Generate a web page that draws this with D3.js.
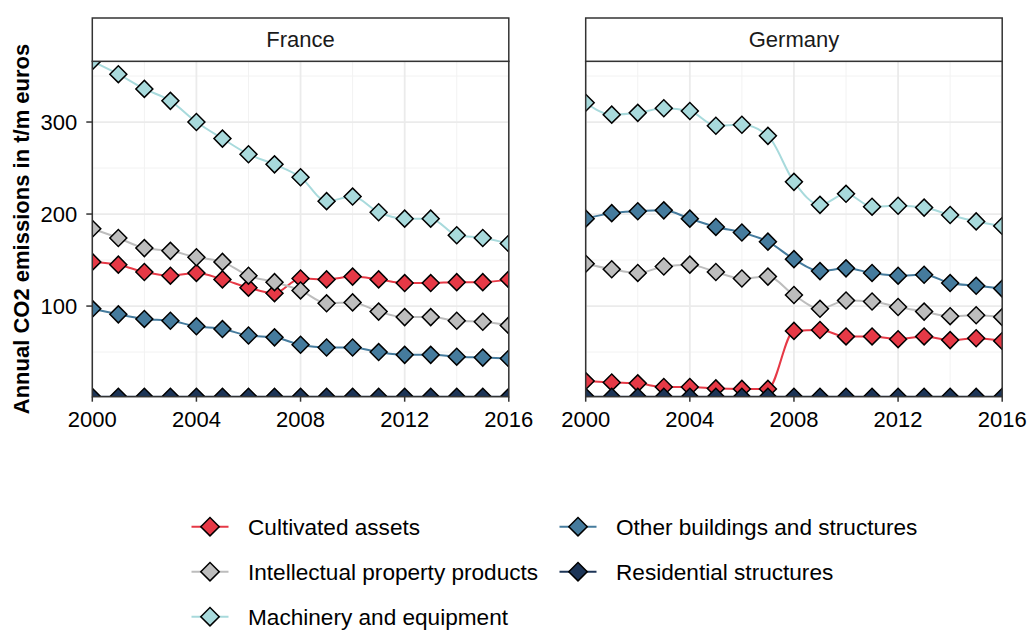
<!DOCTYPE html>
<html>
<head>
<meta charset="utf-8">
<script src="https://cdn.jsdelivr.net/npm/d3@7"></script>
<style>
  body { margin: 0; background: #fff; }
  svg { font-family: "Liberation Sans", Arial, sans-serif; }
</style>
</head>
<body>
<svg id="chart" width="1031" height="630"></svg>
<script>
const years = d3.range(2000, 2017)
const countries = ['France', 'Germany']
const seriesNames = ['Cultivated assets', 'Intellectual property products', 'Machinery and equipment',
	'Other buildings and structures', 'Residential structures']
const cols = ['#E63946', '#BDBDBD', '#A8DADC', '#457B9D', '#1D3557']

// France
const frCultivated = [148,145,137,133,136,129,120,114,130,129,132,129,125,125,126,126,129]
const frIntellectual = [184,174,163,160,153,148,133,126,117,103,104,94,88,88,84,83,79]
const frMachinery = [366,352,336,323,300,282,265,254,240,214,219,202,195,195,177,174,168]
const frOther = [97,91,86,84,78,75,68,66,58,55,55,50,47,47,45,44,43]
const frResidential = [1.5,1.5,1.5,1.5,1.5,1.5,1.5,1.5,1.5,1.5,1.5,1.5,1.5,1.5,1.5,1.5,1.5]

// Germany
const deCultivated = [18.5,17,16,12,12,10.5,10,10,73,74,67,67,64,67,63,65,62]
const deIntellectual = [146,140,136,143,145,137,130,132,112,97,106,105,99,94,89,90,88]
const deMachinery = [321,308,310,315,312,296,297,285,235,210,222,208,209,207,199,192,187]
const deOther = [195,201,203,204,195,186,180,170,151,138,141,136,133,134,125,122,119]
const deResidential = [1.5,1.5,1.5,1.5,1.5,1.5,1.5,1.5,1.5,1.5,1.5,1.5,1.5,1.5,1.5,1.5,1.5]

const yTicks = [100, 200, 300]
const yMinor = [50, 150, 250, 350]
const xTicks = [2000, 2004, 2008, 2012, 2016]
const xMinor = [2002, 2006, 2010, 2014]

const data = {
	France: [frCultivated, frIntellectual, frMachinery, frOther, frResidential],
	Germany: [deCultivated, deIntellectual, deMachinery, deOther, deResidential]
}

const svg = d3.select('#chart')

const fs = 22
const panelTop = 61.3
const panelBottom = 396.7
const stripTop = 18
const panelX = { France: 92.3, Germany: 585.7 }
const panelW = 416.5

const allVals = Object.values(data).flat(2)
const y = d3.scaleLinear()
	.domain([d3.min(allVals), d3.max(allVals)])
	.range([panelBottom, panelTop])

const diamond = d3.symbol().type(d3.symbolSquare).size(144)
const keyDiamond = d3.symbol().type(d3.symbolSquare).size(170)

countries.forEach((c, ci) => {
	const x = d3.scaleLinear().domain([2000, 2016]).range([panelX[c], panelX[c] + panelW])
	const g = svg.append('g')

	g.append('clipPath').attr('id', `clip${ci}`)
		.append('rect')
		.attr('x', panelX[c]).attr('y', panelTop)
		.attr('width', panelW).attr('height', panelBottom - panelTop)

	// grid
	g.selectAll('.ymin').data(yMinor).enter().append('line')
		.attr('x1', panelX[c]).attr('x2', panelX[c] + panelW)
		.attr('y1', d => y(d)).attr('y2', d => y(d))
		.attr('stroke', '#f2f2f2').attr('stroke-width', 1)
	g.selectAll('.xmin').data(xMinor).enter().append('line')
		.attr('y1', panelTop).attr('y2', panelBottom)
		.attr('x1', d => x(d)).attr('x2', d => x(d))
		.attr('stroke', '#f2f2f2').attr('stroke-width', 1)
	g.selectAll('.ymaj').data(yTicks).enter().append('line')
		.attr('x1', panelX[c]).attr('x2', panelX[c] + panelW)
		.attr('y1', d => y(d)).attr('y2', d => y(d))
		.attr('stroke', '#ebebeb').attr('stroke-width', 1.8)
	g.selectAll('.xmaj').data(xTicks).enter().append('line')
		.attr('y1', panelTop).attr('y2', panelBottom)
		.attr('x1', d => x(d)).attr('x2', d => x(d))
		.attr('stroke', '#ebebeb').attr('stroke-width', 1.8)

	const plot = g.append('g').attr('clip-path', `url(#clip${ci})`)
	const line = d3.line().x((d, i) => x(years[i])).y(d => y(d)).curve(d3.curveMonotoneX)

	data[c].forEach((vals, si) => {
		plot.append('path')
			.attr('d', line(vals))
			.attr('fill', 'none')
			.attr('stroke', cols[si])
			.attr('stroke-width', 2)
	})
	data[c].forEach((vals, si) => {
		plot.selectAll(`.pt${si}`).data(vals).enter().append('path')
			.attr('d', diamond)
			.attr('transform', (d, i) => `translate(${x(years[i])},${y(d)}) rotate(45)`)
			.attr('fill', cols[si])
			.attr('stroke', '#000')
			.attr('stroke-width', 1.5)
	})

	// panel border
	g.append('rect')
		.attr('x', panelX[c]).attr('y', panelTop)
		.attr('width', panelW).attr('height', panelBottom - panelTop)
		.attr('fill', 'none').attr('stroke', '#333').attr('stroke-width', 1.5)

	// strip
	g.append('rect')
		.attr('x', panelX[c]).attr('y', stripTop)
		.attr('width', panelW).attr('height', panelTop - stripTop)
		.attr('fill', '#fff').attr('stroke', '#333').attr('stroke-width', 1.5)
	g.append('text')
		.attr('x', panelX[c] + panelW / 2).attr('y', (stripTop + panelTop) / 2)
		.attr('dy', '0.35em').attr('text-anchor', 'middle')
		.attr('font-size', fs).attr('fill', '#1a1a1a')
		.text(c)

	// x axis
	const xa = g.append('g')
	xa.selectAll('line').data(xTicks).enter().append('line')
		.attr('x1', d => x(d)).attr('x2', d => x(d))
		.attr('y1', panelBottom).attr('y2', panelBottom + 5)
		.attr('stroke', '#333').attr('stroke-width', 1.5)
	xa.selectAll('text').data(xTicks).enter().append('text')
		.attr('x', d => x(d)).attr('y', panelBottom + 30)
		.attr('text-anchor', 'middle').attr('font-size', fs).attr('fill', '#000')
		.text(d => d)

	// y axis on first panel only
	if (ci == 0) {
		const ya = g.append('g')
		ya.selectAll('line').data(yTicks).enter().append('line')
			.attr('x1', panelX[c] - 6).attr('x2', panelX[c])
			.attr('y1', d => y(d)).attr('y2', d => y(d))
			.attr('stroke', '#333').attr('stroke-width', 1.5)
		ya.selectAll('text').data(yTicks).enter().append('text')
			.attr('x', panelX[c] - 15).attr('y', d => y(d))
			.attr('dy', '0.36em').attr('text-anchor', 'end')
			.attr('font-size', fs).attr('fill', '#000')
			.text(d => d)
	}
})

// y title
svg.append('text')
	.attr('transform', `translate(28.5,${(panelTop + panelBottom) / 2}) rotate(-90)`)
	.attr('text-anchor', 'middle')
	.attr('font-size', 22).attr('font-weight', 'bold').attr('fill', '#000')
	.text('Annual CO2 emissions in t/m euros')

// legend
const legendPos = [[190, 526.7], [190, 571.7], [190, 616.7], [558, 526.7], [558, 571.7]]
const legendG = svg.selectAll('.legend')
	.data(seriesNames)
	.enter()
	.append('g')
	.attr('transform', (d, i) => `translate(${legendPos[i][0]},${legendPos[i][1]})`)
	.classed('legend', true)

legendG.append('line')
	.attr('x1', 1.5).attr('x2', 38.5).attr('y1', 0).attr('y2', 0)
	.attr('stroke', (d, i) => cols[i]).attr('stroke-width', 2)
legendG.append('path')
	.attr('d', keyDiamond)
	.attr('transform', 'translate(20,0) rotate(45)')
	.attr('fill', (d, i) => cols[i])
	.attr('stroke', '#000').attr('stroke-width', 1.5)
legendG.append('text')
	.attr('x', 58).attr('dy', '0.36em')
	.attr('font-size', 22.6).attr('fill', '#000')
	.text(d => d)
</script>
</body>
</html>
